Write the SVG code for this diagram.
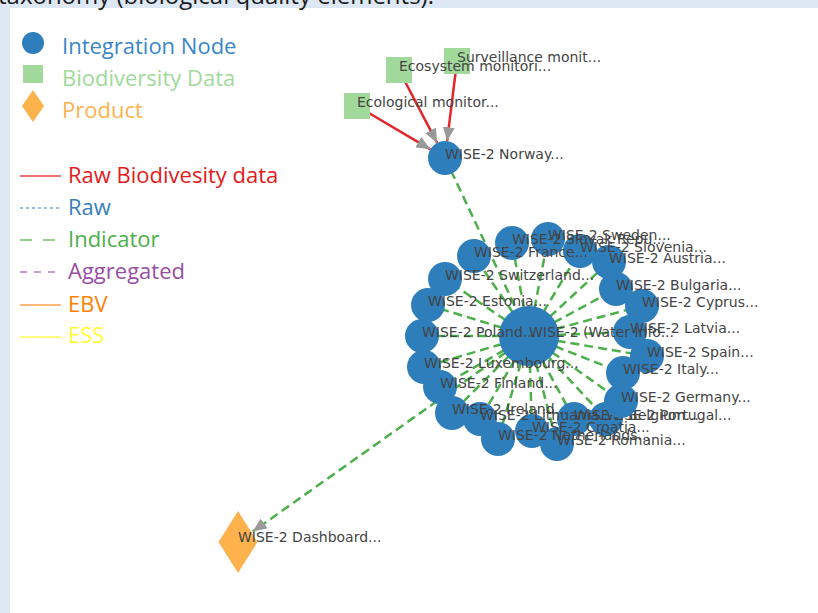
<svg xmlns="http://www.w3.org/2000/svg" width="818" height="613" viewBox="0 0 818 613">
<style>
.bg{fill:#dde8f4}
.lg{font-family:"Open Sans","Liberation Sans",sans-serif;font-size:22px}
.lbl{font-family:"DejaVu Sans","Liberation Sans",sans-serif;font-size:14px;fill:#444}
.int{fill:#2f7ebc}
.bio{fill:#a1d99b}
.prod{fill:#feb24c}
.red{stroke:#e4262a;stroke-width:2.5;fill:none}
.ind{stroke:#4daf4a;stroke-width:2.5;fill:none;stroke-dasharray:9,5}
</style>
<defs>
<marker id="ah" markerUnits="userSpaceOnUse" markerWidth="14" markerHeight="12" viewBox="0 0 14 12" refX="14" refY="6" orient="auto">
<path d="M0,0 L14,6 L0,12 z" fill="#999"/>
</marker>
</defs>
<rect width="818" height="613" fill="#fff"/>
<rect class="bg" x="0" y="0" width="818" height="8"/>
<rect class="bg" x="0" y="0" width="10" height="613"/>
<text x="-2" y="4" font-family="'Open Sans','Liberation Sans',sans-serif" font-size="24" fill="#1a1a1a">taxonomy (biological quality elements).</text>

<g id="legend">
<circle class="int" cx="33" cy="43" r="11"/>
<text class="lg" x="62" y="54" fill="#3a86c6">Integration Node</text>
<rect class="bio" x="23" y="65" width="20" height="18"/>
<text class="lg" x="62" y="86" fill="#a1d99b">Biodiversity Data</text>
<path class="prod" d="M33,90 L44,106 L33,122 L22,106 z"/>
<text class="lg" x="62" y="118" fill="#fdb24f">Product</text>
<line x1="20" y1="176" x2="61" y2="176" stroke="#ef7475" stroke-width="2"/>
<text class="lg" x="68" y="183" fill="#e41a1c">Raw Biodivesity data</text>
<line x1="20" y1="208" x2="61" y2="208" stroke="#9cbfe0" stroke-width="2" stroke-dasharray="3,3"/>
<text class="lg" x="68" y="215" fill="#377eb8">Raw</text>
<line x1="20" y1="240" x2="61" y2="240" stroke="#8fd18b" stroke-width="2" stroke-dasharray="12,11"/>
<text class="lg" x="68" y="247" fill="#4daf4a">Indicator</text>
<line x1="20" y1="272" x2="61" y2="272" stroke="#c79fcf" stroke-width="2" stroke-dasharray="7,7"/>
<text class="lg" x="68" y="279" fill="#984ea3">Aggregated</text>
<line x1="20" y1="305" x2="61" y2="305" stroke="#ffb878" stroke-width="2"/>
<text class="lg" x="68" y="312" fill="#ff7f00">EBV</text>
<line x1="20" y1="337" x2="61" y2="337" stroke="#ffff80" stroke-width="2"/>
<text class="lg" x="68" y="343" fill="#ffff33">ESS</text>
</g>

<g id="connectors">
<line class="red" x1="357" y1="106" x2="430.4" y2="149.3" marker-end="url(#ah)"/>
<line class="red" x1="399" y1="70" x2="437.1" y2="142.9" marker-end="url(#ah)"/>
<line class="red" x1="457" y1="61" x2="447.1" y2="141.1" marker-end="url(#ah)"/>
<line class="ind" x1="445" y1="158" x2="529" y2="336"/>
<line class="ind" x1="529" y1="336" x2="252.7" y2="531.6" marker-end="url(#ah)"/>
<line class="ind" x1="529" y1="336" x2="474" y2="256"/>
<line class="ind" x1="529" y1="336" x2="512" y2="243"/>
<line class="ind" x1="529" y1="336" x2="548" y2="239"/>
<line class="ind" x1="529" y1="336" x2="580" y2="251"/>
<line class="ind" x1="529" y1="336" x2="609" y2="262"/>
<line class="ind" x1="529" y1="336" x2="616" y2="289"/>
<line class="ind" x1="529" y1="336" x2="642" y2="306"/>
<line class="ind" x1="529" y1="336" x2="630" y2="332"/>
<line class="ind" x1="529" y1="336" x2="647" y2="356"/>
<line class="ind" x1="529" y1="336" x2="623" y2="373"/>
<line class="ind" x1="529" y1="336" x2="621" y2="401"/>
<line class="ind" x1="529" y1="336" x2="606" y2="419"/>
<line class="ind" x1="529" y1="336" x2="574" y2="419"/>
<line class="ind" x1="529" y1="336" x2="557" y2="444"/>
<line class="ind" x1="529" y1="336" x2="532" y2="431"/>
<line class="ind" x1="529" y1="336" x2="498" y2="439"/>
<line class="ind" x1="529" y1="336" x2="480" y2="419"/>
<line class="ind" x1="529" y1="336" x2="452" y2="413"/>
<line class="ind" x1="529" y1="336" x2="440" y2="387"/>
<line class="ind" x1="529" y1="336" x2="424" y2="367"/>
<line class="ind" x1="529" y1="336" x2="422" y2="336"/>
<line class="ind" x1="529" y1="336" x2="428" y2="305"/>
<line class="ind" x1="529" y1="336" x2="445" y2="279"/>
</g>

<g id="n-spain"><circle class="int" cx="647" cy="356" r="17"/><text class="lbl" x="647" y="357">WISE-2 Spain...</text></g>
<g id="n-cyprus"><circle class="int" cx="642" cy="306" r="17"/><text class="lbl" x="642" y="307">WISE-2 Cyprus...</text></g>
<g id="n-latvia"><circle class="int" cx="630" cy="332" r="17"/><text class="lbl" x="630" y="333">WISE-2 Latvia...</text></g>
<g id="n-bulgaria"><circle class="int" cx="616" cy="289" r="17"/><text class="lbl" x="616" y="290">WISE-2 Bulgaria...</text></g>
<g id="n-water"><circle class="int" cx="529" cy="336" r="30"/><text class="lbl" x="529" y="337">WISE-2 (Water Info...</text></g>
<g id="n-norway"><circle class="int" cx="445" cy="158" r="17"/><text class="lbl" x="445" y="159">WISE-2 Norway...</text></g>
<g id="n-surveillance"><rect class="bio" x="444" y="48" width="26" height="26"/><text class="lbl" x="457" y="62">Surveillance monit...</text></g>
<g id="n-ecosystem"><rect class="bio" x="386" y="57" width="26" height="26"/><text class="lbl" x="399" y="71">Ecosystem monitori...</text></g>
<g id="n-ecological"><rect class="bio" x="344" y="93" width="26" height="26"/><text class="lbl" x="357" y="107">Ecological monitor...</text></g>
<g id="n-dashboard"><path class="prod" d="M238,511 L257.5,542 L238,573 L218.5,542 z"/><text class="lbl" x="238" y="542">WISE-2 Dashboard...</text></g>
<g id="n-austria"><circle class="int" cx="609" cy="262" r="17"/><text class="lbl" x="609" y="263">WISE-2 Austria...</text></g>
<g id="n-slovenia"><circle class="int" cx="580" cy="251" r="17"/><text class="lbl" x="580" y="252">WISE-2 Slovenia...</text></g>
<g id="n-sweden"><circle class="int" cx="548" cy="239" r="17"/><text class="lbl" x="548" y="240">WISE-2 Sweden...</text></g>
<g id="n-slovakia"><circle class="int" cx="512" cy="243" r="17"/><text class="lbl" x="512" y="244">WISE-2 Slovak Repu...</text></g>
<g id="n-france"><circle class="int" cx="474" cy="256" r="17"/><text class="lbl" x="474" y="257">WISE-2 France...</text></g>
<g id="n-switzerland"><circle class="int" cx="445" cy="279" r="17"/><text class="lbl" x="445" y="280">WISE-2 Switzerland...</text></g>
<g id="n-estonia"><circle class="int" cx="428" cy="305" r="17"/><text class="lbl" x="428" y="306">WISE-2 Estonia...</text></g>
<g id="n-poland"><circle class="int" cx="422" cy="336" r="17"/><text class="lbl" x="422" y="337">WISE-2 Poland...</text></g>
<g id="n-luxembourg"><circle class="int" cx="424" cy="367" r="17"/><text class="lbl" x="424" y="368">WISE-2 Luxembourg...</text></g>
<g id="n-finland"><circle class="int" cx="440" cy="387" r="17"/><text class="lbl" x="440" y="388">WISE-2 Finland...</text></g>
<g id="n-portugal"><circle class="int" cx="606" cy="419" r="17"/><text class="lbl" x="606" y="420">WISE-2 Portugal...</text></g>
<g id="n-belgium"><circle class="int" cx="574" cy="419" r="17"/><text class="lbl" x="574" y="420">WISE-2 Belgium...</text></g>
<g id="n-romania"><circle class="int" cx="557" cy="444" r="17"/><text class="lbl" x="557" y="445">WISE-2 Romania...</text></g>
<g id="n-croatia"><circle class="int" cx="532" cy="431" r="17"/><text class="lbl" x="532" y="432">WISE-2 Croatia...</text></g>
<g id="n-lithuania"><circle class="int" cx="480" cy="419" r="17"/><text class="lbl" x="480" y="420">WISE-2 Lithuania...</text></g>
<g id="n-ireland"><circle class="int" cx="452" cy="413" r="17"/><text class="lbl" x="452" y="414">WISE-2 Ireland...</text></g>
<g id="n-netherlands"><circle class="int" cx="498" cy="439" r="17"/><text class="lbl" x="498" y="440">WISE-2 Netherlands...</text></g>
<g id="n-germany"><circle class="int" cx="621" cy="401" r="17"/><text class="lbl" x="621" y="402">WISE-2 Germany...</text></g>
<g id="n-italy"><circle class="int" cx="623" cy="373" r="17"/><text class="lbl" x="623" y="374">WISE-2 Italy...</text></g>
</svg>
